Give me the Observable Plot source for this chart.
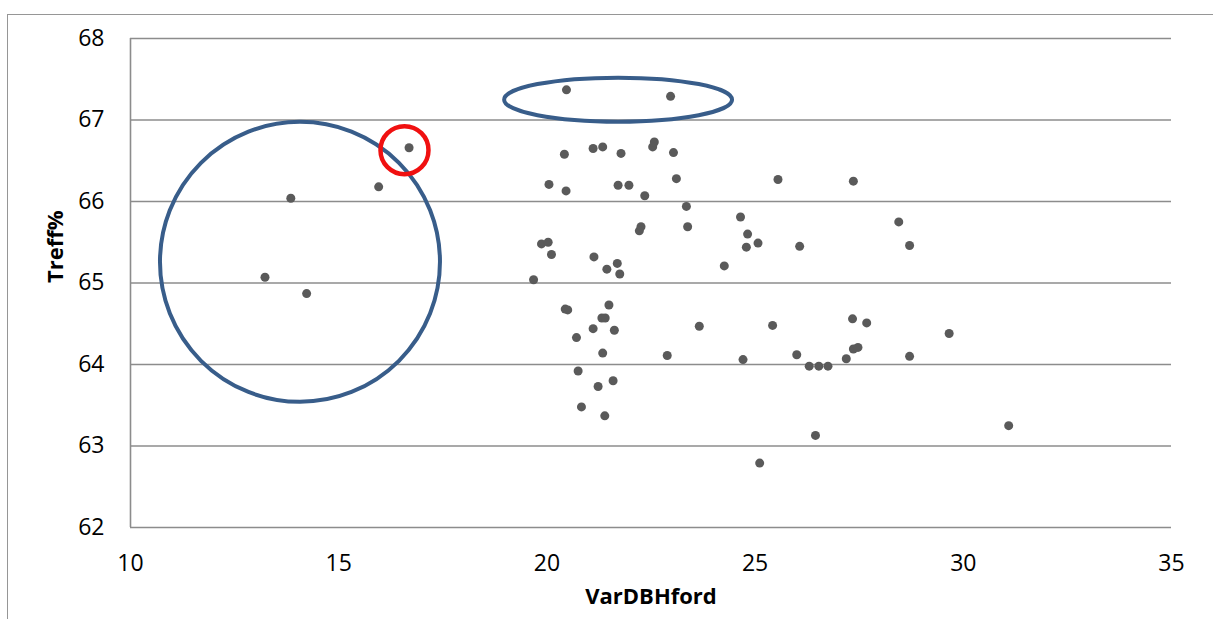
<!DOCTYPE html>
<html>
<head>
<meta charset="utf-8">
<script src="https://cdn.jsdelivr.net/npm/d3@7"></script>
<script src="https://cdn.jsdelivr.net/npm/@observablehq/plot@0.6"></script>
<style>
  html, body { margin: 0; padding: 0; background: #fff; }
  #wrap { position: relative; width: 1213px; height: 619px; overflow: hidden; }
  #border {
    position: absolute; left: 7px; top: 14px; right: -10px; bottom: -10px;
    border-left: 1.5px solid #969696; border-top: 1.5px solid #969696;
  }
  #chart { position: absolute; left: 0; top: 0; }
</style>
</head>
<body>
<div id="wrap"><div id="border"></div><div id="chart"></div></div>
<script>
// VarDBHford (x) against Treff% (y)
const varDBHford = [
  13.23, 13.85, 14.23, 15.96, 16.69,
  20.47, 22.97,
  20.42, 21.11, 21.34, 21.78, 22.54, 22.58, 23.04,
  20.05, 20.46, 21.71, 21.97, 22.35, 23.11, 25.55, 27.36,
  23.35, 24.65, 23.38, 22.26, 22.22, 24.82, 25.07, 24.79, 26.07, 28.45, 28.71,
  19.87, 20.03, 20.11, 21.13, 21.44, 21.69, 21.75, 24.26, 19.68,
  20.44, 20.50, 21.49, 21.32, 21.40, 21.11, 21.62, 20.71, 21.34, 22.89, 23.66, 25.42,
  24.71, 26.00, 26.30, 26.53, 26.75, 27.19, 27.34, 27.68, 27.36, 27.47, 28.71, 29.66,
  20.75, 21.23, 21.59, 20.83, 21.39, 26.45, 31.09, 25.11
];
const treff = [
  65.07, 66.04, 64.87, 66.18, 66.66,
  67.37, 67.29,
  66.58, 66.65, 66.67, 66.59, 66.67, 66.73, 66.60,
  66.21, 66.13, 66.20, 66.20, 66.07, 66.28, 66.27, 66.25,
  65.94, 65.81, 65.69, 65.69, 65.64, 65.60, 65.49, 65.44, 65.45, 65.75, 65.46,
  65.48, 65.50, 65.35, 65.32, 65.17, 65.24, 65.11, 65.21, 65.04,
  64.68, 64.67, 64.73, 64.57, 64.57, 64.44, 64.42, 64.33, 64.14, 64.11, 64.47, 64.48,
  64.06, 64.12, 63.98, 63.98, 63.98, 64.07, 64.56, 64.51, 64.19, 64.21, 64.10, 64.38,
  63.92, 63.73, 63.80, 63.48, 63.37, 63.13, 63.25, 62.79
];

const xTicks = [10, 15, 20, 25, 30, 35];
const yTicks = [62, 63, 64, 65, 66, 67, 68];

// Highlight shapes: centres in data units
const groupCircle = [{x: 14.07, y: 65.26}];
const topEllipse = [{x: 21.71, y: 67.25}];
const outlierCircle = [{x: 16.58, y: 66.63}];

const points = varDBHford.map((x, i) => ({x, y: treff[i]}));

// Horizontal ellipse symbol; height follows the dot radius
const ellipseSymbol = {
  draw(context, size) {
    const ry = Math.sqrt(size / Math.PI);
    const rx = ry * 5.18;
    const k = 0.5523;
    context.moveTo(rx, 0);
    context.bezierCurveTo(rx, ry * k, rx * k, ry, 0, ry);
    context.bezierCurveTo(-rx * k, ry, -rx, ry * k, -rx, 0);
    context.bezierCurveTo(-rx, -ry * k, -rx * k, -ry, 0, -ry);
    context.bezierCurveTo(rx * k, -ry, rx, -ry * k, rx, 0);
    context.closePath();
  }
};

const gridColor = "#8c8c8c";
const fontFamily = "'Open Sans', 'DejaVu Sans', sans-serif";

const chart = Plot.plot({
  width: 1213,
  height: 619,
  marginLeft: 130,
  marginRight: 42,
  marginTop: 38,
  marginBottom: 92,
  style: {fontFamily, fontSize: "23px", color: "#000", background: "transparent"},
  x: {domain: [10, 35], ticks: xTicks, label: null},
  y: {domain: [62, 68], ticks: yTicks, label: null},
  marks: [
    Plot.ruleY(yTicks, {stroke: gridColor, strokeWidth: 1.6}),
    Plot.ruleX([10], {stroke: gridColor, strokeWidth: 1.6}),
    Plot.axisX({ticks: xTicks, tickFormat: "d", tickSize: 0, tickPadding: 27, fontSize: 23, label: null}),
    Plot.axisY({ticks: yTicks, tickFormat: "d", tickSize: 0, tickPadding: 26, fontSize: 23, label: null}),
    Plot.dot(points, {x: "x", y: "y", r: 4.5, fill: "#5a5a5a", stroke: "none"}),
    Plot.dot(groupCircle, {x: "x", y: "y", r: 140, fill: "none", stroke: "#385d8a", strokeWidth: 4}),
    Plot.dot(topEllipse, {x: "x", y: "y", r: 22, symbol: ellipseSymbol, fill: "none", stroke: "#385d8a", strokeWidth: 4}),
    Plot.dot(outlierCircle, {x: "x", y: "y", r: 24, fill: "none", stroke: "#f01010", strokeWidth: 4.5}),
    Plot.text(["VarDBHford"], {frameAnchor: "bottom", dy: 76, fontSize: 22, fontWeight: "bold", fill: "#000"}),
    Plot.text(["Treff%"], {frameAnchor: "left", dx: -75, rotate: -90, fontSize: 22, fontWeight: "bold", fill: "#000"})
  ]
});

document.getElementById("chart").appendChild(chart);
</script>
</body>
</html>
